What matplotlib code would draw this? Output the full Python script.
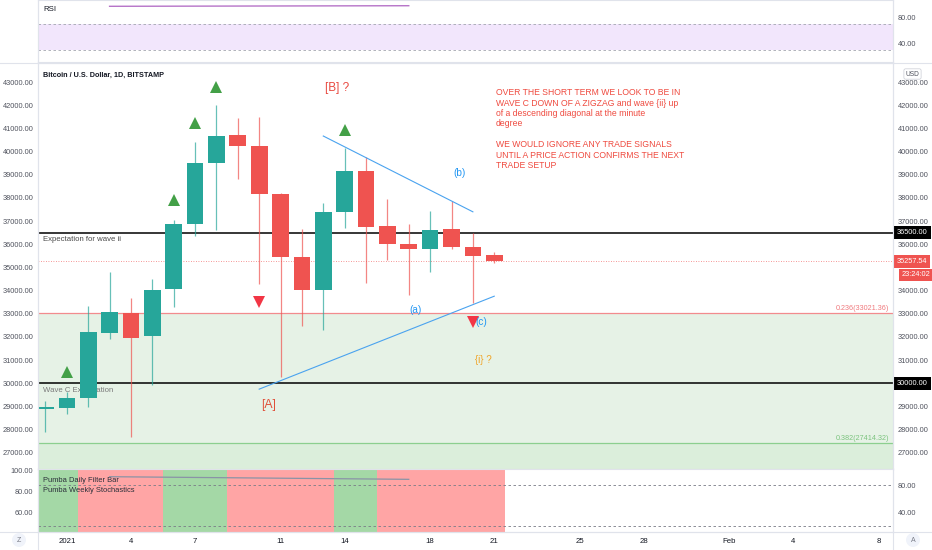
import numpy as np
import matplotlib
matplotlib.use("Agg")
import matplotlib.pyplot as plt

plt.rcParams['font.family'] = ['Liberation Sans', 'DejaVu Sans']

W, H = 932, 550

# daily candles BTC/USD, BITSTAMP
dates = ["2020-12-31", "2021-01-01", "2021-01-02", "2021-01-03", "2021-01-04",
         "2021-01-05", "2021-01-06", "2021-01-07", "2021-01-08", "2021-01-09",
         "2021-01-10", "2021-01-11", "2021-01-12", "2021-01-13", "2021-01-14",
         "2021-01-15", "2021-01-16", "2021-01-17", "2021-01-18", "2021-01-19",
         "2021-01-20", "2021-01-21"]
opens = [28910, 28950, 29380, 32190, 33030, 32030, 34070, 36870, 39500, 40700, 40240,
         38170, 35460, 34020, 37390, 39160, 36780, 36020, 35810, 36670, 35890, 35530]
highs = [29260, 29620, 33320, 34790, 33700, 34520, 37040, 40420, 42000, 41430, 41470,
         38220, 36650, 37800, 40160, 39770, 37960, 36860, 37440, 37880, 36470, 35650]
lows = [27890, 28660, 29000, 31930, 27680, 29910, 33290, 36350, 36610, 38800, 34300,
        30270, 32460, 32320, 36710, 34350, 35340, 33820, 34800, 35800, 33450, 35190]
closes = [29000, 29380, 32210, 33070, 31960, 34040, 36860, 39510, 40690, 40240, 38170,
          35460, 34020, 37390, 39160, 36760, 36000, 35810, 36610, 35900, 35500, 35257.54]
last_price = 35257.54
countdown = "23:24:02"

buy_dates = ["2021-01-01", "2021-01-06", "2021-01-07", "2021-01-08", "2021-01-14"]
buy_levels = [30490, 37900, 41240, 42800, 40930]
sell_dates = ["2021-01-10", "2021-01-20"]
sell_levels = [33520, 32630]

upper_line_dates = ["2021-01-13", "2021-01-20"]
upper_line_vals = [40670, 37400]
lower_line_dates = ["2021-01-10", "2021-01-21"]
lower_line_vals = [29750, 33760]

levels = [36500, 30000]
fib_236 = 33021.36
fib_382 = 27414.32

rsi_dates = ["2021-01-03", "2021-01-17"]
rsi_vals = [96.5, 97.4]

# Pumba daily filter bar, one colour per day
filter_state = ["g", "g", "r", "r", "r", "r", "g", "g", "g", "r", "r",
                "r", "r", "r", "g", "g", "r", "r", "r", "r", "r", "r"]
stoch_dates = ["2021-01-03", "2021-01-17"]
stoch_vals = [92.3, 88.4]

tick_dates = ["2021-01-01", "2021-01-04", "2021-01-07", "2021-01-11", "2021-01-14",
              "2021-01-18", "2021-01-21", "2021-01-25", "2021-01-28", "2021-02-01",
              "2021-02-04", "2021-02-08"]
tick_labels = ["2021", "4", "7", "11", "14", "18", "21", "25", "28", "Feb", "4", "8"]

note = ("OVER THE SHORT TERM WE LOOK TO BE IN\n"
        "WAVE C DOWN OF A ZIGZAG and wave {ii} up\n"
        "of a descending diagonal at the minute\n"
        "degree\n\n"
        "WE WOULD IGNORE ANY TRADE SIGNALS\n"
        "UNTIL A PRICE ACTION CONFIRMS THE NEXT\n"
        "TRADE SETUP")


def day(d):
    return (np.array(d, dtype="datetime64[D]") - np.datetime64("2021-01-01")).astype(float)


x = day(dates)
opens, highs, lows, closes = map(np.array, (opens, highs, lows, closes))

fig = plt.figure(figsize=(W / 100, H / 100), dpi=100)
fig.patch.set_facecolor("white")

XLIM = (-1.35, 38.66)
GRID = "#e0e3eb"
LBL = "#50535e"


def pane(y0, y1):
    a = fig.add_axes([38 / W, 1 - y1 / H, 855 / W, (y1 - y0) / H])
    a.set_xlim(*XLIM)
    for s in a.spines.values():
        s.set_color(GRID)
        s.set_linewidth(0.8)
    a.tick_params(length=0, labelsize=5.3, labelcolor=LBL, pad=3.3)
    return a


# ---- RSI pane
ax_rsi = pane(0, 62)
ax_rsi.set_ylim(10.8, 106.2)
ax_rsi.axhspan(30, 70, color="#f2e6fc", lw=0)
for v in (70, 30):
    ax_rsi.axhline(v, color="#a3a6af", lw=0.6, ls=(0, (3, 3)))
ax_rsi.plot(day(rsi_dates), rsi_vals, color="#b673c8", lw=1)
ax_rsi.set_xticks([])
ax_rsi.set_yticks([80, 40])
ax_rsi.set_yticklabels(["80.00", "40.00"])
ax_rsi.yaxis.tick_right()
ax_rsi.text(5 / 855, 0.84, "RSI", transform=ax_rsi.transAxes, fontsize=5.6,
            color="#131722", va="center")

# ---- main price pane
ax = pane(63, 469)
ylo, yhi = 26305, 43820
ax.set_ylim(ylo, yhi)
ax.axhspan(fib_382, fib_236, color="#e6f2e6", lw=0, zorder=0)
ax.axhspan(ylo, fib_382, color="#dbeedb", lw=0, zorder=0)
ax.axhline(fib_236, color="#f28b8e", lw=0.9, zorder=1)
ax.axhline(fib_382, color="#8ccf8f", lw=0.9, zorder=1)
for lv in levels:
    ax.axhline(lv, color="black", lw=1.1, zorder=1)
ax.axhline(last_price, color="#ef5350", lw=0.6, ls=(0, (1, 2)), alpha=0.8, zorder=1)

cols = np.where(closes >= opens, "#26a69a", "#ef5350")
ax.vlines(x, lows, highs, colors=cols, lw=0.9, alpha=0.7, zorder=2)
body_lo = np.minimum(opens, closes)
body_h = np.maximum(np.abs(closes - opens), 70)
ax.bar(x, body_h, bottom=body_lo, width=0.78, color=cols, lw=0, zorder=3)

ax.plot(day(buy_dates), buy_levels, "^", color="#43a047", ms=8, mew=0, zorder=4)
ax.plot(day(sell_dates), sell_levels, "v", color="#f23645", ms=8, mew=0, zorder=4)

ax.plot(day(upper_line_dates), upper_line_vals, color="#4aa3ef", lw=0.8, zorder=4)
ax.plot(day(lower_line_dates), lower_line_vals, color="#4aa3ef", lw=0.8, zorder=4)

ax.text(5 / 855, 0.970, "Bitcoin / U.S. Dollar, 1D, BITSTAMP", transform=ax.transAxes,
        fontsize=5.2, fontweight="bold", color="#131722", va="center")
ax.text(-1.12, 36227, "Expectation for wave ii", fontsize=5.6, color="#4a4a4a",
        va="center", zorder=2.5)
ax.text(-1.12, 29713, "Wave C Expectation", fontsize=5.6, color="#7a7a7a",
        va="center", zorder=2.5)
ax.text(38.5, fib_236 + 220, "0.236(33021.36)", fontsize=5.2, color="#f07a7e",
        ha="right", va="center")
ax.text(38.5, fib_382 + 220, "0.382(27414.32)", fontsize=5.2, color="#7cc47f",
        ha="right", va="center")

waves = [("[B] ?", 12.65, 42728, "#e8483f", 8.5),
         ("[A]", 9.44, 29070, "#e0503a", 8.8),
         ("(b)", 18.36, 39060, "#2196f3", 7.2),
         ("(a)", 16.33, 33165, "#2196f3", 7.2),
         ("(c)", 19.4, 32647, "#2196f3", 7.2),
         ("{i} ?", 19.47, 31007, "#f0a324", 7.0)]
for t, wx, wy, c, fs in waves:
    ax.text(wx, wy, t, color=c, fontsize=fs, ha="center", va="center", zorder=5)

ax.text(20.08, 42730, note, fontsize=6.2, color="#ef4a3f", va="top", ha="left",
        linespacing=1.2, zorder=5)

ax.set_xticks([])
all_ticks = list(range(27000, 43001, 1000))
ax.set_yticks(all_ticks)
ax.set_yticklabels([f"{v:.2f}" for v in all_ticks])
ax.tick_params(axis="y", labelright=False, labelleft=True)

ax_r = ax.twinx()
ax_r.set_ylim(ylo, yhi)
right_ticks = [v for v in all_ticks if v not in (35000, 30000)]
ax_r.set_yticks(right_ticks)
ax_r.set_yticklabels([f"{v:.2f}" for v in right_ticks])
ax_r.tick_params(length=0, labelsize=5.3, labelcolor=LBL, pad=3.3)
for s in ax_r.spines.values():
    s.set_visible(False)

trans = ax.get_yaxis_transform()
box = dict(boxstyle="square,pad=0.4", ec="none")
for lv in levels:
    ax.text(1.0047, lv, f"{lv:.2f}", transform=trans, color="white", fontsize=5.3,
            va="center", bbox=dict(box, fc="black"), clip_on=False, zorder=6)
ax.text(1.0047, last_price, f"{last_price:.2f}", transform=trans, color="white",
        fontsize=5.3, va="center", bbox=dict(box, fc="#ef5350"), clip_on=False, zorder=6)
ax.annotate(countdown, xy=(1.0047, last_price), xycoords=trans, xytext=(3.5, -9.7),
            textcoords="offset points", color="white", fontsize=5.3, va="center",
            bbox=dict(box, fc="#ef5350"), annotation_clip=False, zorder=6)
fig.text(912.5 / W, 1 - 74 / H, "USD", fontsize=4.8, color="#50535e", ha="center",
         va="center", bbox=dict(boxstyle="round,pad=0.25", fc="white", ec="#c9ccd4", lw=0.5))

# ---- Pumba pane
ax_bot = pane(469, 532)
blo, bhi = 41.9, 101.9
ax_bot.set_ylim(blo, bhi)
fcols = ["#a4d8a6" if s == "g" else "#ffa5a5" for s in filter_state]
ax_bot.bar(x, bhi - blo, bottom=blo, width=1.0, color=fcols, lw=0, zorder=0)
ax_bot.set_yticks([60, 80, 100])
ax_bot.set_yticklabels(["60.00", "80.00", "100.00"])
ax_bot.set_xticks(day(tick_dates))
ax_bot.set_xticklabels(tick_labels)
ax_bot.tick_params(axis="x", labelsize=5.6, labelcolor="#131722", pad=4)
ax_bot.text(5 / 855, 0.825, "Pumba Daily Filter Bar", transform=ax_bot.transAxes,
            fontsize=5.4, color="#2a2e39", va="center", zorder=5)
ax_bot.text(5 / 855, 0.651, "Pumba Weekly Stochastics", transform=ax_bot.transAxes,
            fontsize=5.4, color="#2a2e39", va="center", zorder=5)

ax_b2 = ax_bot.twinx()
ax_b2.set_ylim(10.4, 103.7)
for v in (80, 20):
    ax_b2.axhline(v, color="#787b86", lw=0.6, ls=(0, (3, 3)))
ax_b2.plot(day(stoch_dates), stoch_vals, color="#8a93a6", lw=0.9)
ax_b2.set_yticks([80, 40])
ax_b2.set_yticklabels(["80.00", "40.00"])
ax_b2.tick_params(length=0, labelsize=5.3, labelcolor=LBL, pad=3.3)
for s in ax_b2.spines.values():
    s.set_visible(False)

# pane separators and corner buttons
for xx in (38, 893):
    fig.add_artist(plt.Line2D([xx / W, xx / W], [0, 1], transform=fig.transFigure,
                              color=GRID, lw=0.8))
fig.add_artist(plt.Line2D([0, 1], [1 - 532 / H] * 2, transform=fig.transFigure,
                          color=GRID, lw=0.8))
fig.add_artist(plt.Line2D([0, 1], [1 - 62.5 / H] * 2, transform=fig.transFigure,
                          color=GRID, lw=0.8))
for bx, t in ((19, "Z"), (913, "A")):
    fig.text(bx / W, 1 - 540 / H, t, fontsize=5, color="#787b86", ha="center",
             va="center", bbox=dict(boxstyle="circle,pad=0.5", fc="#f0f3fa", ec="none"))

fig.savefig("out.png", dpi=100, facecolor="white")
